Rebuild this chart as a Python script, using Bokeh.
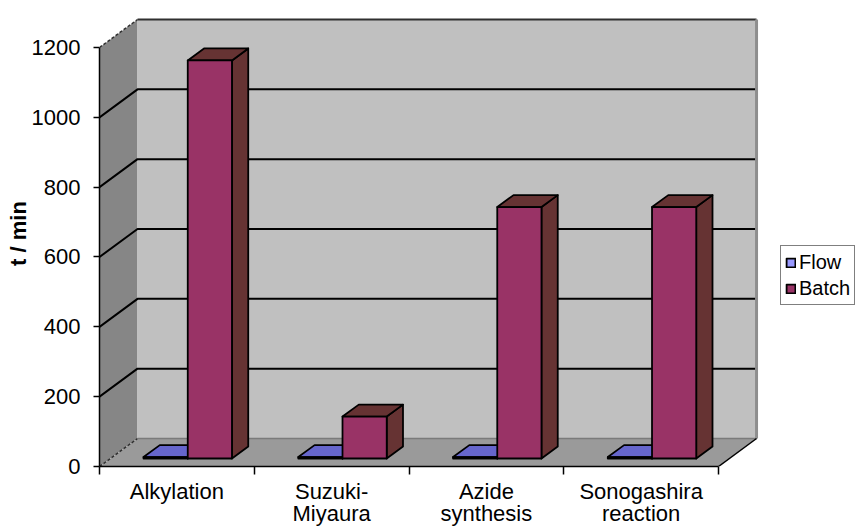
import numpy as np
from bokeh.plotting import figure
from bokeh.models import Range1d, FixedTicker, LinearAxis, Legend, LegendItem
from bokeh.embed import file_html
from bokeh.resources import INLINE

# ---------------- data ----------------
categories = ["Alkylation", "Suzuki-\nMiyaura", "Azide\nsynthesis", "Sonogashira\nreaction"]
series_names = ["Flow", "Batch"]
flow_min = [4, 4, 4, 4]
batch_min = [1140, 120, 720, 720]
y_ticks = [0, 200, 400, 600, 800, 1000, 1200]

# ---------------- style / geometry ----------------
FONT = "Liberation Sans"
DX, DY = 0.2456, 80.2          # full depth offset (category units, value units)
F0, F1 = 0.286, 0.714          # bar depth start / end fraction
GAP = 1.5
W = 1.0 / (2 + GAP)
n = len(categories)
YMAX = y_ticks[-1]

front_cols = ["#9999FF", "#993366"]
top_cols = ["#6666CC", "#663333"]
side_cols = ["#4D4D99", "#663333"]

p = figure(width=857, height=530, output_backend="svg", toolbar_location=None,
           x_range=Range1d(0, 4.898), y_range=Range1d(0, 1334.6),
           min_border_left=99, min_border_right=0, min_border_top=0, min_border_bottom=64,
           x_axis_location=None, y_axis_location=None)
p.xgrid.visible = False
p.ygrid.visible = False
p.outline_line_color = None
p.background_fill_color = "white"

# walls and floor
p.patch([0, DX, DX, 0], [0, DY, YMAX + DY, YMAX], fill_color="#868686", line_color=None)
p.quad(left=[DX], right=[n + DX], bottom=[DY], top=[YMAX + DY], fill_color="#C0C0C0", line_color=None)
p.patch([0, n, n + DX, DX], [0, 0, DY, DY], fill_color="#9A9A9A", line_color=None)

# gridlines
gx = [[0, DX, n + DX] for t in y_ticks[1:-1]]
gy = [[t, t + DY, t + DY] for t in y_ticks[1:-1]]
p.multi_line(gx, gy, line_color="black", line_width=2)
p.line([DX, n + DX], [YMAX + DY, YMAX + DY], line_color="#303030", line_width=2)
p.line([0, DX], [YMAX, YMAX + DY], line_color="#303030", line_width=1.5, line_dash="3 2")
p.line([0, DX], [0, DY], line_color="#303030", line_width=1.5, line_dash="3 2")
p.line([DX, n + DX], [DY, DY], line_color="#7A7A7A", line_width=1.5)
p.line([n + DX, n + DX], [DY, YMAX + DY], line_color="#8E8E8E", line_width=3)
p.line([n, n + DX], [0, DY], line_color="black", line_width=1.5)

# bars
front_renderers = []
for s, vals in enumerate([flow_min, batch_min]):
    fx, fy, tx, ty, sx, sy = [], [], [], [], [], []
    for i, v in enumerate(vals):
        x0 = i + 0.5 - W + s * W
        x1 = x0 + W
        a0x, a0y = F0 * DX, F0 * DY
        a1x, a1y = F1 * DX, F1 * DY
        fx.append([x0 + a0x, x1 + a0x, x1 + a0x, x0 + a0x])
        fy.append([a0y, a0y, v + a0y, v + a0y])
        tx.append([x0 + a0x, x0 + a1x, x1 + a1x, x1 + a0x])
        ty.append([v + a0y, v + a1y, v + a1y, v + a0y])
        sx.append([x1 + a0x, x1 + a1x, x1 + a1x, x1 + a0x])
        sy.append([a0y, a1y, v + a1y, v + a0y])
    p.patches(sx, sy, fill_color=side_cols[s], line_color="black", line_width=1.8, line_join="round")
    p.patches(tx, ty, fill_color=top_cols[s], line_color="black", line_width=1.8, line_join="round")
    r = p.patches(fx, fy, fill_color=front_cols[s], line_color="black", line_width=1.8, line_join="round")
    front_renderers.append(r)

# axes
yaxis = LinearAxis(ticker=FixedTicker(ticks=y_ticks), bounds=(0, YMAX),
                   axis_label="t / min", axis_label_text_font=FONT, axis_label_text_color="black",
                   axis_label_text_font_style="bold", axis_label_text_font_size="22px",
                   major_label_text_font=FONT, major_label_text_font_size="22px",
                   major_label_text_color="black",
                   major_tick_out=6, major_tick_in=0, minor_tick_out=0, minor_tick_in=0,
                   axis_line_width=1.5, major_tick_line_width=1.5,
                   major_label_standoff=13, axis_label_standoff=-2)
p.add_layout(yaxis, "left")

xaxis = LinearAxis(ticker=FixedTicker(ticks=[i + 0.5 for i in range(n)], minor_ticks=list(range(n + 1))),
                   bounds=(0, n),
                   major_label_overrides={i + 0.5: c for i, c in enumerate(categories)},
                   major_label_text_font=FONT, major_label_text_font_size="22px",
                   major_label_text_color="black", major_label_text_line_height=0.9,
                   major_tick_out=0, major_tick_in=0, minor_tick_out=8, minor_tick_in=0,
                   minor_tick_line_color="black", minor_tick_line_width=1.5,
                   axis_line_width=1.5, major_label_standoff=4)
p.add_layout(xaxis, "below")

# legend
items = [LegendItem(label=name, renderers=[front_renderers[s]]) for s, name in enumerate(series_names)]
legend = Legend(items=items, location=(681, 161), border_line_color="black", border_line_width=1,
                background_fill_color="white", background_fill_alpha=1.0,
                label_text_font=FONT, label_text_font_size="20px", label_text_color="black",
                glyph_width=11, glyph_height=11, padding=4, spacing=2, margin=0, label_standoff=3,
                label_height=24)
p.add_layout(legend)

open("out.html", "w").write(file_html(p, INLINE))
